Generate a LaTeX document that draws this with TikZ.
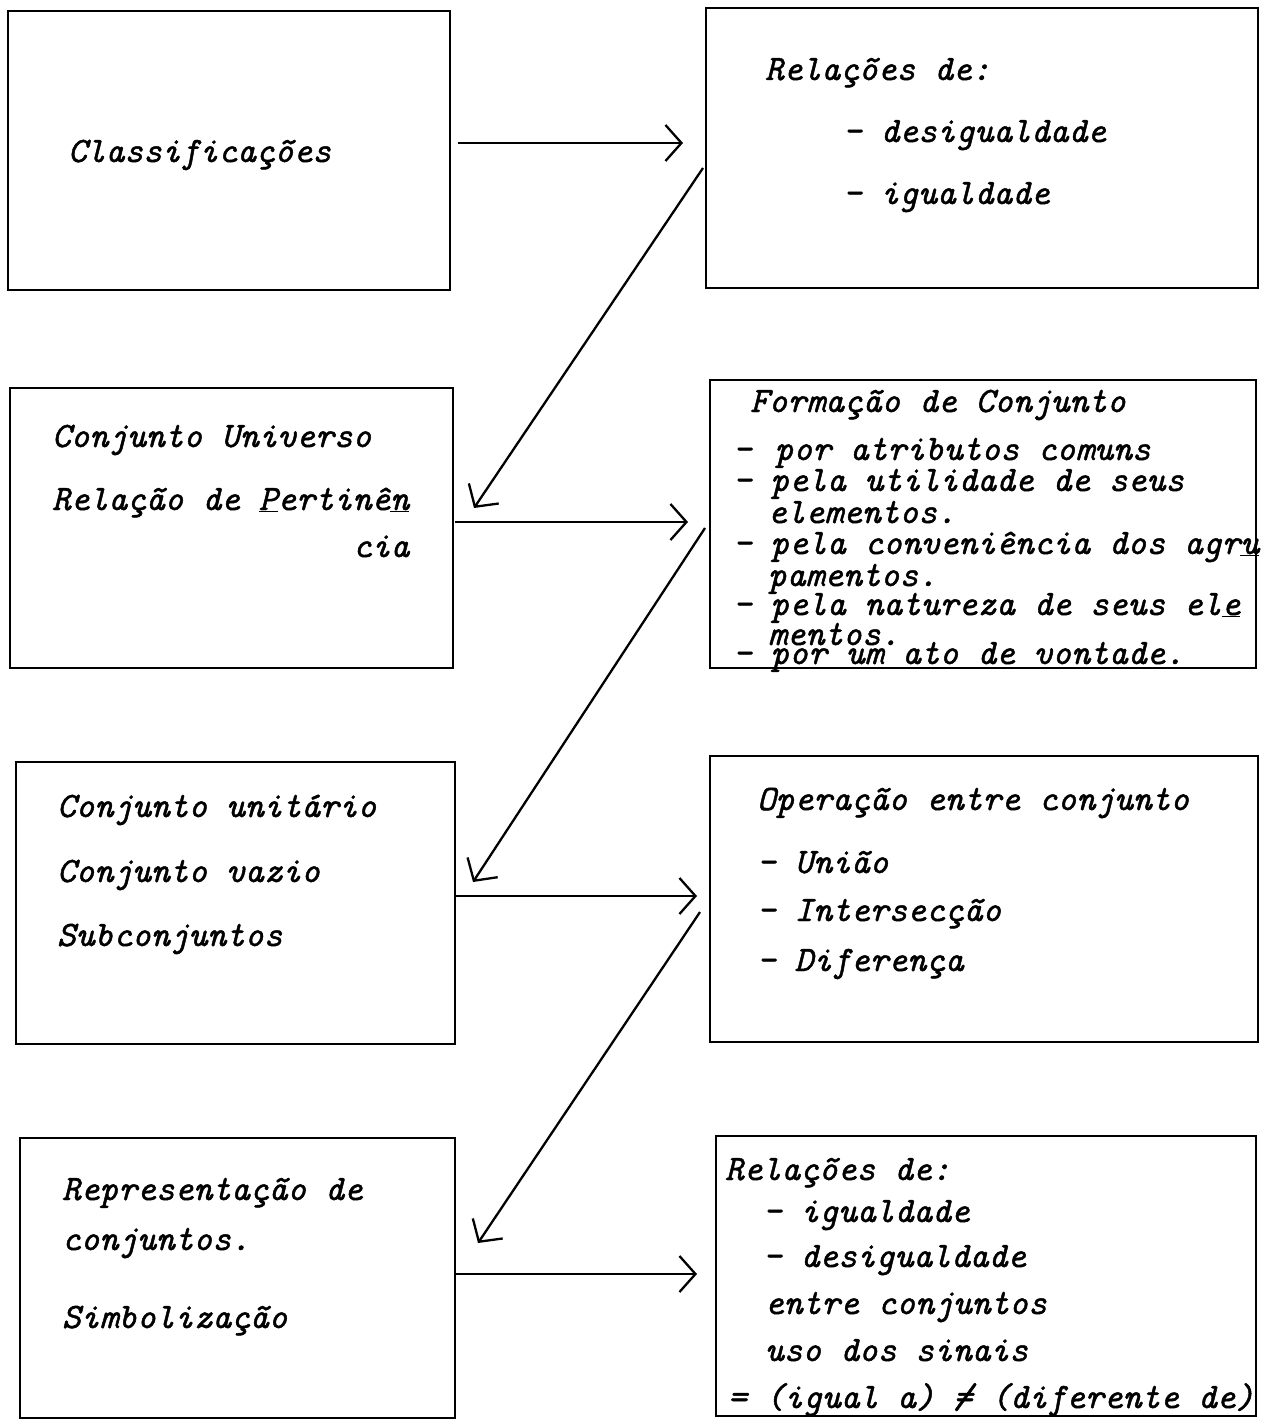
\documentclass[tikz,border=0pt]{standalone}
\usepackage{fontspec}
\usetikzlibrary{arrows.meta,calc}
% slanted typewriter face, slightly emboldened like a ribbon impression
\newfontfamily\twfont{lmmono10-italic}[Extension=.otf,FakeBold=1.3]
% typewriter "not equal": a slash struck over the equals sign
\newcommand\twneq{\rlap{=}/}
\begin{document}
\begin{tikzpicture}[x=1pt,y=-1pt,
  box/.style={draw,line width=2.8pt,rectangle,inner sep=0pt,outer sep=0pt},
  txt/.style={anchor=base west,inner sep=0pt,outer sep=0pt,
    font=\fontsize{35.8}{40}\selectfont\twfont},
  arr/.style={line width=2.3pt,-{Straight Barb[length=16pt,width=36pt,line width=2.3pt]}}]
\useasboundingbox (0,0) rectangle (1269,1421);

% boxes
\node[box,minimum width=442pt,minimum height=279pt] (A) at (229,150.5) {};
\node[box,minimum width=552pt,minimum height=280pt] (B) at (982,148) {};
\node[box,minimum width=443pt,minimum height=280pt] (C) at (231.5,528) {};
\node[box,minimum width=546pt,minimum height=288pt] (D) at (983,524) {};
\node[box,minimum width=439pt,minimum height=282pt] (E) at (235.5,903) {};
\node[box,minimum width=548pt,minimum height=286pt] (F) at (984,899) {};
\node[box,minimum width=435pt,minimum height=280pt] (G) at (237.5,1278) {};
\node[box,minimum width=540pt,minimum height=280pt] (H) at (986,1276) {};

% box A
\node[txt] (a1) at (68,162) {Classificações};

% box B
\node[txt] (b1) at (765,80) {Relações de:};
\node[txt] (b2) at (843,142) {- desigualdade};
\node[txt] (b3) at (843,204) {- igualdade};

% box C
\node[txt] (c1) at (52,447) {Conjunto Universo};
\node[txt] (c2) at (52,510) {Relação de \underline{P}ertinê\underline{n}};
\node[txt] (c3) at (353,557) {cia};

% box D
\node[txt] (d1) at (750,412) {Formação de Conjunto};
\node[txt] (d2) at (733,460) {-\hspace{23pt}por atributos comuns};
\node[txt] (d3) at (733,491) {- pela utilidade de seus};
\node[txt] (d4) at (768,523) {elementos.};
\node[txt] (d5) at (733,554) {- pela conveniência dos agr\underline{u}};
\node[txt] (d6) at (768,586) {pamentos.};
\node[txt] (d7) at (733,615) {- pela natureza de seus el\underline{e}};
\node[txt] (d8) at (768,645) {mentos.};
\node[txt] (d9) at (733,664) {- por um ato de vontade.};

% box E
\node[txt] (e1) at (57,817) {Conjunto unitário};
\node[txt] (e2) at (57,882) {Conjunto vazio};
\node[txt] (e3) at (57,946) {Subconjuntos};

% box F
\node[txt] (f1) at (757,810) {Operação entre conjunto};
\node[txt] (f2) at (757,873) {- União};
\node[txt] (f3) at (757,921) {- Intersecção};
\node[txt] (f4) at (757,971) {- Diferença};

% box G
\node[txt] (g1) at (62,1200) {Representação de};
\node[txt] (g2) at (62,1250) {conjuntos.};
\node[txt] (g3) at (62,1328) {Simbolização};

% box H
\node[txt] (h1) at (725,1180) {Relações de:};
\node[txt] (h2) at (763,1222) {- igualdade};
\node[txt] (h3) at (763,1267) {- desigualdade};
\node[txt] (h4) at (765,1314) {entre conjuntos};
\node[txt] (h5) at (765,1361) {uso dos sinais};
\node[txt] (h6) at (728,1408) {= (igual a) \twneq{} (diferente de)};

% connectors
\draw[arr] ($(A.east)+(8,-7.5)$) -- ($(B.west)+(-23,-5)$);
\draw[arr] ($(B.west)+(-3,20)$) -- ($(C.east)+(21,-20)$);
\draw[arr] ($(C.east)+(2,-6)$) -- ($(D.west)+(-22,-2)$);
\draw[arr] ($(D.west)+(-5,4)$) -- ($(E.east)+(18,-21)$);
\draw[arr] ($(E.east)+(0,-7)$) -- ($(F.west)+(-13,-3)$);
\draw[arr] ($(F.west)+(-10,13)$) -- ($(G.east)+(23,-35)$);
\draw[arr] ($(G.east)+(0,-4)$) -- ($(H.west)+(-19,-2)$);
\end{tikzpicture}
\end{document}
